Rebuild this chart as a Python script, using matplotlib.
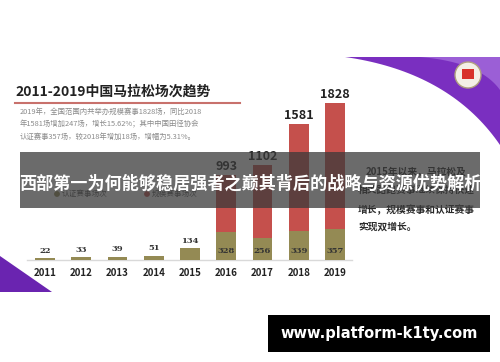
import numpy as np
import matplotlib.pyplot as plt
from matplotlib.patches import Rectangle, Polygon, Circle

plt.rcParams['font.family'] = ['Noto Sans CJK SC', 'DejaVu Sans']

years = ['2011', '2012', '2013', '2014', '2015', '2016', '2017', '2018', '2019']
total = [22, 33, 39, 51, 134, 993, 1102, 1581, 1828]
certified = [22, 33, 39, 51, 134, 328, 256, 339, 357]

title = '2011-2019中国马拉松场次趋势'
desc = ['2019年，全国范围内共举办规模赛事1828场，同比2018',
        '年1581场增加247场，增长15.62%；其中中国田径协会',
        '认证赛事357场，较2018年增加18场，增幅为5.31%。']
side = ['2015年以来，马拉松及', '相关路跑赛事继续保持快速', '增长，规模赛事和认证赛事', '实现双增长。']
legend_labels = ['认证赛事场次', '规模赛事场次']
banner = '西部第一为何能够稳居强者之巅其背后的战略与资源优势解析'
site = 'www.platform-k1ty.com'

W, H = 500, 362
red = '#c5504c'
olive = '#948a54'

fig = plt.figure(figsize=(5, 3.62), dpi=100)
fig.patch.set_facecolor('white')

# background layer (slide decoration and text)
bg = fig.add_axes([0, 0, 1, 1], zorder=0)
bg.set_xlim(0, W)
bg.set_ylim(H, 0)
bg.axis('off')

t = np.linspace(0, 1, 40)
cx = (1 - t) ** 2 * 345 + 2 * (1 - t) * t * 450 + t ** 2 * 500
cy = (1 - t) ** 2 * 57 + 2 * (1 - t) * t * 72 + t ** 2 * 145
bg.add_patch(Polygon(np.column_stack([np.r_[cx, 500], np.r_[cy, 57]]),
                     closed=True, color='#7a2fc0', lw=0))
cx2 = (1 - t) ** 2 * 420 + 2 * (1 - t) * t * 480 + t ** 2 * 500
cy2 = (1 - t) ** 2 * 57 + 2 * (1 - t) * t * 62 + t ** 2 * 90
bg.add_patch(Polygon(np.column_stack([np.r_[cx2, 500], np.r_[cy2, 57]]),
                     closed=True, color='#9b5fd6', lw=0))
bg.add_patch(Polygon([[0, 256], [52, 292], [0, 292]], closed=True, color='#6a24b0', lw=0))
bg.add_patch(Circle((468, 75), 13, facecolor='#f4efe6', edgecolor='#b0a080', lw=1))
bg.add_patch(Rectangle((462, 69), 12, 10, color='#d8322a', lw=0))

bg.text(15, 92, title, fontsize=10, fontweight='bold', color='#222222', va='center')
bg.plot([15, 240], [103, 103], color='#c8716c', lw=1.5)
for i, line in enumerate(desc):
    bg.text(20, 112 + i * 12.5, line, fontsize=5.3, color='#8a8a8a', va='center')
for i, y in enumerate([172, 190, 210, 227]):
    bg.text(358 if i else 366, y, side[i], fontsize=7, fontweight='bold',
            color='#2a2a2a', va='center')
bg.plot([27, 352], [260, 260], color='#d9d9d9', lw=1)

# legend (lies under banner)
bg.scatter([57, 147], [194, 194], s=10, color=[olive, red])
bg.text(62, 194, legend_labels[0], fontsize=5.5, color='#555555', va='center')
bg.text(152, 194, legend_labels[1], fontsize=5.5, color='#555555', va='center')

# bar chart
ax = fig.add_axes([23.25 / W, 1 - 260 / H, 333.5 / W, 171.8 / H], zorder=1)
ax.patch.set_alpha(0)
x = np.arange(len(years))
upper = [tt - c for tt, c in zip(total, certified)]
ax.bar(x, certified, width=0.55, color=olive)
ax.bar(x, upper, bottom=certified, width=0.55, color=red)
ax.set_xlim(-0.6, 8.6)
ax.set_ylim(0, 2000)
ax.set_xticks(x)
ax.set_xticklabels(years, fontsize=7, fontweight='bold', color='#222222')
ax.tick_params(axis='x', length=0, pad=6)
ax.set_yticks([])
for s in ax.spines.values():
    s.set_visible(False)
for i in range(len(years)):
    if upper[i] > 0:
        ax.text(x[i], 55, str(certified[i]), ha='center', va='bottom', fontsize=6,
                fontweight='bold', color='#333333', family='DejaVu Serif')
        ax.text(x[i], total[i] + 25, str(total[i]), ha='center', va='bottom',
                fontsize=9, fontweight='bold', color='#222222')
    else:
        ax.text(x[i], total[i] + 40, str(total[i]), ha='center', va='bottom', fontsize=6,
                fontweight='bold', color='#333333', family='DejaVu Serif')

# foreground layer (overlay banners)
fg = fig.add_axes([0, 0, 1, 1], zorder=2)
fg.patch.set_alpha(0)
fg.set_xlim(0, W)
fg.set_ylim(H, 0)
fg.axis('off')
fg.add_patch(Rectangle((20, 152), 460, 56, color='#3a3a3a', alpha=0.75, lw=0))
fg.text(250, 184, banner, fontsize=12.3, fontweight='bold', color='white',
        ha='center', va='center')
fg.add_patch(Rectangle((268, 315), 222, 37, color='black', lw=0))
fg.text(379, 333.5, site, fontsize=10.5, fontweight='bold', color='white',
        ha='center', va='center', family='DejaVu Sans')

fig.savefig('out.png', dpi=100)
